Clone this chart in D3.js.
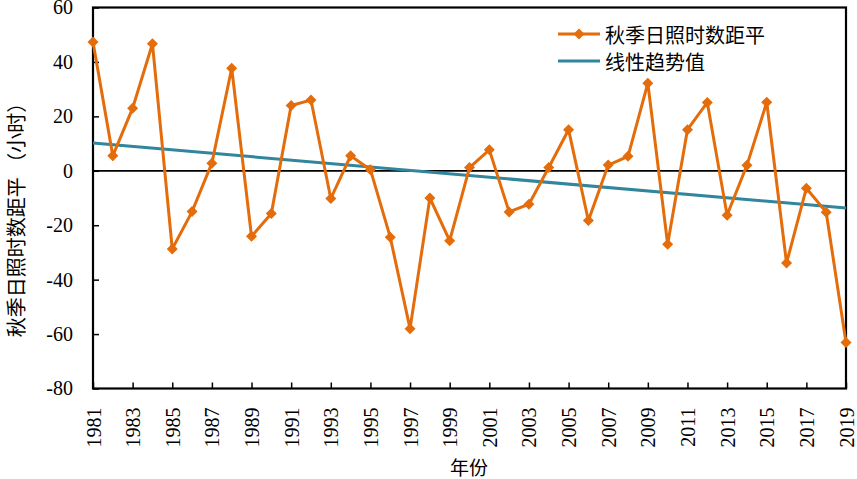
<!DOCTYPE html>
<html>
<head>
<meta charset="utf-8">
<script src="https://cdn.jsdelivr.net/npm/d3@7"></script>
<style>
  html, body { margin: 0; padding: 0; background: #fff; }
  svg { display: block; }
</style>
</head>
<body>
<svg id="chart" width="857" height="479"></svg>
<script>
// ---- data ----
const years = d3.range(1981, 2020);
const anomaly = [47.3, 5.5, 23.0, 46.7, -28.7, -15.0, 2.8, 37.7, -24.1, -15.7,
                 24.0, 26.0, -10.2, 5.5, 0.4, -24.4, -58.0, -10.0, -25.7, 1.2,
                 7.7, -15.1, -12.3, 1.2, 15.1, -18.3, 2.1, 5.3, 32.2, -27.0,
                 15.1, 25.1, -16.3, 2.0, 25.2, -33.9, -6.4, -15.2, -63.1];
const trendYears = [1981, 2019];
const trendValues = [10.2, -13.7];
const yTicks = [-80, -60, -40, -20, 0, 20, 40, 60];
const xTickYears = d3.range(1981, 2020, 2);
const seriesName = "秋季日照时数距平";
const trendName = "线性趋势值";
const yTitle = "秋季日照时数距平  （小时）";
const xTitle = "年份";

// ---- layout ----
const svg = d3.select("#chart");
const L = 93, R = 846, T = 7.5, B = 388.5;
const x = d3.scaleLinear().domain([1981, 2019]).range([L, R]);
const y = d3.scaleLinear().domain([-80, 60]).range([B, T]);
const orange = "#E46C0A", teal = "#31859C";
const serif = "Liberation Serif";
const cjk = "Noto Sans CJK SC";

// zero line
svg.append("line").attr("x1", L).attr("x2", R).attr("y1", y(0)).attr("y2", y(0))
  .attr("stroke", "#000").attr("stroke-width", 1.8);

// y axis (ticks inside)
const yAxis = d3.axisLeft(y).tickValues(yTicks).tickSize(-6).tickPadding(20).tickFormat(d => String(d));
const gy = svg.append("g").attr("transform", `translate(${L},0)`).call(yAxis)
  .attr("font-family", serif).attr("font-size", 20);
gy.select(".domain").remove();
gy.selectAll(".tick line").attr("stroke", "#000").attr("stroke-width", 1.5);
gy.selectAll(".tick text").attr("fill", "#000")
  .style("font-family", serif).style("font-size", "20px");

// x axis (ticks inside)
const xAxis = d3.axisBottom(x).tickValues(xTickYears).tickSize(-6).tickFormat(d => String(d));
const gx = svg.append("g").attr("transform", `translate(0,${B})`).call(xAxis)
  .attr("font-family", serif).attr("font-size", 20);
gx.select(".domain").remove();
gx.selectAll(".tick line").attr("stroke", "#000").attr("stroke-width", 1.5);
gx.selectAll(".tick text")
  .attr("fill", "#000")
  .style("font-family", serif).style("font-size", "20px")
  .attr("y", 0).attr("dy", null)
  .attr("text-anchor", "end")
  .attr("dominant-baseline", "central")
  .attr("transform", "translate(0,19) rotate(-90)");

// frame
svg.append("rect").attr("x", L).attr("y", T).attr("width", R - L).attr("height", B - T)
  .attr("fill", "none").attr("stroke", "#000").attr("stroke-width", 2.2);

// trend line
const trendLine = d3.line().x((d, i) => x(trendYears[i])).y(d => y(d));
svg.append("path").datum(trendValues).attr("d", trendLine)
  .attr("fill", "none").attr("stroke", teal).attr("stroke-width", 3);

// series line
const line = d3.line().x((d, i) => x(years[i])).y(d => y(d));
svg.append("path").datum(anomaly).attr("d", line)
  .attr("fill", "none").attr("stroke", orange).attr("stroke-width", 3).attr("stroke-linejoin", "miter");

const diamond = r => `M0,${-r}L${r},0L0,${r}L${-r},0Z`;
svg.append("g").selectAll("path").data(anomaly).join("path")
  .attr("d", diamond(5.5))
  .attr("transform", (d, i) => `translate(${x(years[i])},${y(d)})`)
  .attr("fill", orange);

// legend
const lg = svg.append("g").style("font-family", cjk).style("font-size", "20px");
lg.append("line").attr("x1", 558).attr("x2", 600).attr("y1", 34).attr("y2", 34)
  .attr("stroke", orange).attr("stroke-width", 3);
lg.append("path").attr("d", diamond(5.5)).attr("transform", "translate(579,34)").attr("fill", orange);
lg.append("text").attr("x", 605).attr("y", 34).attr("dominant-baseline", "central").text(seriesName);
lg.append("line").attr("x1", 558).attr("x2", 600).attr("y1", 61).attr("y2", 61)
  .attr("stroke", teal).attr("stroke-width", 3);
lg.append("text").attr("x", 605).attr("y", 61).attr("dominant-baseline", "central").text(trendName);

// axis titles
svg.append("text")
  .style("font-family", cjk).style("font-size", "20px")
  .attr("transform", "translate(15,215) rotate(-90)")
  .attr("text-anchor", "middle").attr("dominant-baseline", "central")
  .text(yTitle);
svg.append("text")
  .style("font-family", cjk).style("font-size", "19px")
  .attr("x", 469).attr("y", 466)
  .attr("text-anchor", "middle").attr("dominant-baseline", "central")
  .text(xTitle);
</script>
</body>
</html>
